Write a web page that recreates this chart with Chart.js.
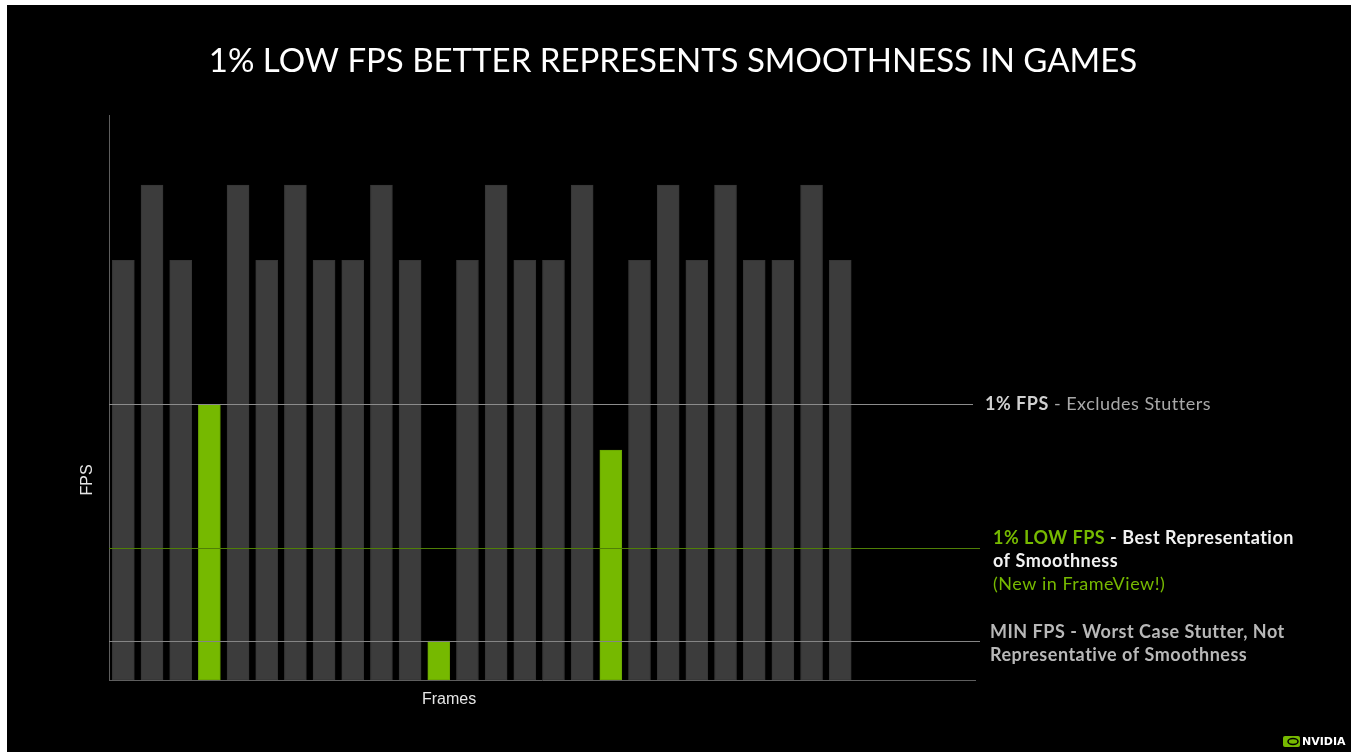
<!DOCTYPE html>
<html>
<head>
<meta charset="utf-8">
<script src="https://cdn.jsdelivr.net/npm/chart.js@4.4.0/dist/chart.umd.min.js"></script>
<style>
  html, body { margin: 0; padding: 0; background: #fff; overflow: hidden; }
  #wrap { position: absolute; left: 7px; top: 5px; width: 1344px; height: 747px; background: #000; }
</style>
</head>
<body>
<div id="wrap"><canvas id="fpsChart"></canvas></div>
<script>
// dati del grafico
const titolo = '1% LOW FPS BETTER REPRESENTS SMOOTHNESS IN GAMES';
const frames = [1, 2, 3, 4, 5, 6, 7, 8, 9, 10, 11, 12, 13, 14, 15, 16, 17, 18, 19, 20, 21, 22, 23, 24, 25, 26];
const fps = [74.3, 87.6, 74.3, 48.8, 87.6, 74.3, 87.6, 74.3, 74.3, 87.6, 74.3, 6.9, 74.3, 87.6, 74.3, 74.3, 87.6, 40.7, 74.3, 87.6, 74.3, 87.6, 74.3, 74.3, 87.6, 74.3];
const lowFrames = [4, 12, 18];          // frame evidenziati in verde
const refLevels = [48.8, 23.4, 6.9];    // 1% FPS, 1% LOW FPS, MIN FPS
const xTitle = 'Frames';
const yTitle = 'FPS';

const verde = '#76b900';
const grigio = '#3c3c3c';

// testi a destra delle linee (una riga = lista di pezzi)
const note = [
  [[['1% FPS', '#d0d0d0', 'bold'], [' - Excludes Stutters', '#a8a8a8', 'normal']]],
  [[['1% LOW FPS', verde, 'bold'], [' - Best Representation', '#f2f2f2', 'bold']],
   [['of Smoothness', '#f2f2f2', 'bold']],
   [['(New in FrameView!)', verde, 'normal']]],
  [[['MIN FPS - Worst Case Stutter, Not', '#b8b8b8', 'bold']],
   [['Representative of Smoothness', '#b8b8b8', 'bold']]]
];
const lineColors = ['#8c8c8c', '#4f7f06', '#858585'];
const noteOffset = [[10, 0], [18, -10], [15, -9]];

function drawRuns(ctx, runs, x, y) {
  ctx.letterSpacing = '0.5px';
  runs.forEach(r => {
    ctx.font = r[2] + ' 18px Lato, sans-serif';
    ctx.fillStyle = r[1];
    ctx.fillText(r[0], x, y);
    x += ctx.measureText(r[0]).width;
  });
  ctx.letterSpacing = '0px';
}

const decorazioni = {
  id: 'decorazioni',
  afterDatasetsDraw(chart) {
    const { ctx, chartArea, scales } = chart;
    ctx.save();

    // linee di riferimento
    refLevels.forEach((lv, i) => {
      const y = Math.round(scales.y.getPixelForValue(lv)) + 0.5;
      ctx.strokeStyle = lineColors[i];
      ctx.lineWidth = 1;
      ctx.beginPath();
      ctx.moveTo(chartArea.left, y);
      ctx.lineTo(chartArea.right + (i === 0 ? -2 : 5), y);
      ctx.stroke();

      ctx.textBaseline = 'middle';
      ctx.textAlign = 'left';
      note[i].forEach((riga, j) => {
        drawRuns(ctx, riga, chartArea.right + noteOffset[i][0], y + noteOffset[i][1] + j * 23);
      });
    });

    // titolo
    ctx.textAlign = 'center';
    ctx.textBaseline = 'alphabetic';
    ctx.fillStyle = '#ffffff';
    ctx.font = '33px Lato, sans-serif';
    ctx.fillText(titolo, 666, 67);

    // titoli degli assi
    ctx.fillStyle = '#e6e6e6';
    ctx.font = '16px "Liberation Sans", Arial, sans-serif';
    ctx.textBaseline = 'middle';
    ctx.fillText(xTitle, scales.x.getPixelForValue(12.36), chartArea.bottom + 20);
    ctx.save();
    ctx.translate(chartArea.left - 21, scales.y.getPixelForValue(35.4));
    ctx.rotate(-Math.PI / 2);
    ctx.fillText(yTitle, 0, 0);
    ctx.restore();

    // logo NVIDIA
    const lx = 1276, ly = 731;
    ctx.fillStyle = verde;
    ctx.beginPath();
    ctx.roundRect(lx, ly, 17, 11, 2);
    ctx.fill();
    ctx.strokeStyle = '#000';
    ctx.lineWidth = 1.5;
    ctx.beginPath();
    ctx.ellipse(lx + 10, ly + 5.5, 5, 3, 0, 0, Math.PI * 2);
    ctx.stroke();
    ctx.fillStyle = '#ffffff';
    ctx.font = 'bold 11px "DejaVu Sans", sans-serif';
    ctx.textAlign = 'left';
    ctx.textBaseline = 'middle';
    ctx.fillText('NVIDIA', lx + 19, ly + 6);

    ctx.restore();
  }
};

const asse = {
  display: true,
  grid: { display: false },
  ticks: { display: false },
  border: { display: true, color: '#5e5e5e', width: 1 },
  afterFit(s) { if (s.isHorizontal()) s.height = 0; else s.width = 0; }
};

new Chart(document.getElementById('fpsChart'), {
  type: 'bar',
  data: {
    datasets: [{
      data: frames.map((f, i) => ({ x: f, y: fps[i] })),
      backgroundColor: frames.map(f => lowFrames.includes(f) ? verde : grigio),
      borderColor: frames.map(f => lowFrames.includes(f) ? '#6aa600' : '#363636'),
      borderWidth: 1,
      borderSkipped: false,
      barThickness: 22
    }]
  },
  options: {
    responsive: true,
    maintainAspectRatio: false,
    animation: false,
    layout: { padding: { left: 102, top: 110, right: 376, bottom: 72 } },
    plugins: { legend: { display: false }, tooltip: { enabled: false } },
    scales: {
      x: Object.assign({}, asse, { type: 'linear', min: 0.5, max: 30.7, offset: false }),
      y: Object.assign({}, asse, { min: 0, max: 100 })
    }
  },
  plugins: [decorazioni]
});
</script>
</body>
</html>
